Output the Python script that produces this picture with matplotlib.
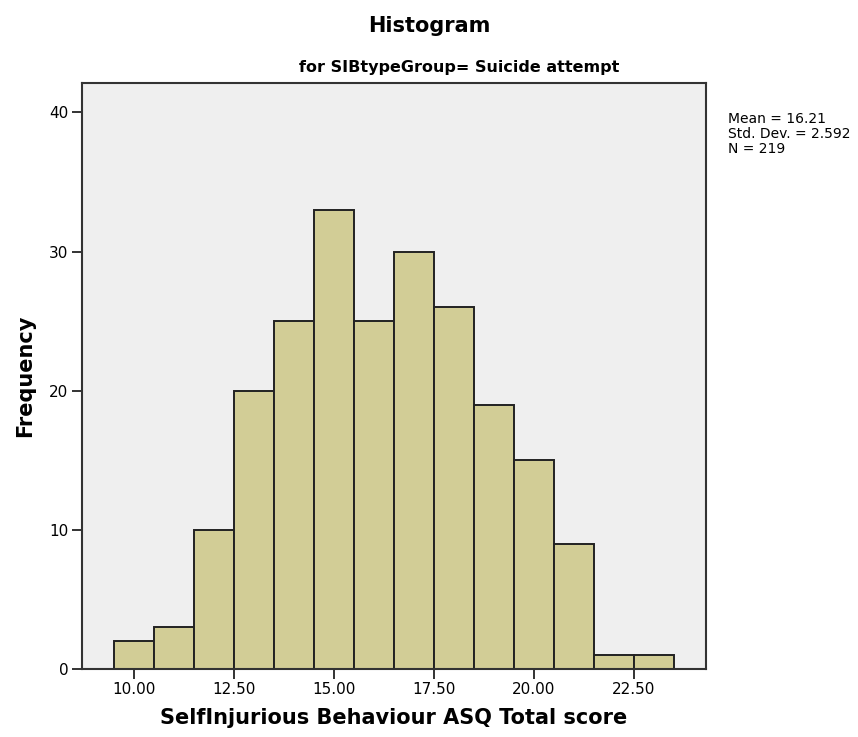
import numpy as np
import matplotlib
matplotlib.use('Agg')
import matplotlib.pyplot as plt

# bin left edges and counts
bin_left = [9.5, 10.5, 11.5, 12.5, 13.5, 14.5, 15.5, 16.5, 17.5, 18.5, 19.5, 20.5, 21.5, 22.5]
counts = [2, 3, 10, 20, 25, 33, 25, 30, 26, 19, 15, 9, 1, 1]
xticks = [10.0, 12.5, 15.0, 17.5, 20.0, 22.5]
yticks = [0, 10, 20, 30, 40]
stats_text = 'Mean = 16.21\nStd. Dev. = 2.592\nN = 219'

fig = plt.figure(figsize=(8.58, 7.37), dpi=100)
ax = fig.add_axes([0.095, 0.0923, 0.728, 0.7947])
ax.set_facecolor('#efefef')

ax.bar(bin_left, counts, width=1.0, align='edge', color='#d2cd96',
       edgecolor='#222222', linewidth=1.4)

ax.set_xlim(8.7, 24.3)
ax.set_ylim(0, 42.1)
ax.set_xticks(xticks)
ax.set_xticklabels(['%.2f' % v for v in xticks], fontsize=11)
ax.set_yticks(yticks)
ax.set_yticklabels([str(v) for v in yticks], fontsize=11)
ax.tick_params(axis='both', direction='out', length=7.5, width=1.4, color='#333333', pad=2)

for s in ax.spines.values():
    s.set_color('#333333')
    s.set_linewidth(1.5)

ax.set_xlabel('SelfInjurious Behaviour ASQ Total score', fontsize=15, fontweight='bold', labelpad=8)
ax.set_ylabel('Frequency', fontsize=15, fontweight='bold', labelpad=10)

fig.text(0.5, 0.965, 'Histogram', ha='center', va='center', fontsize=15, fontweight='bold')
fig.text(0.535, 0.908, 'for SIBtypeGroup= Suicide attempt', ha='center', va='center',
         fontsize=11.5, fontweight='bold')
fig.text(0.848, 0.848, stats_text, ha='left', va='top', fontsize=10, linespacing=1.1)

fig.savefig('out.png', dpi=100)
